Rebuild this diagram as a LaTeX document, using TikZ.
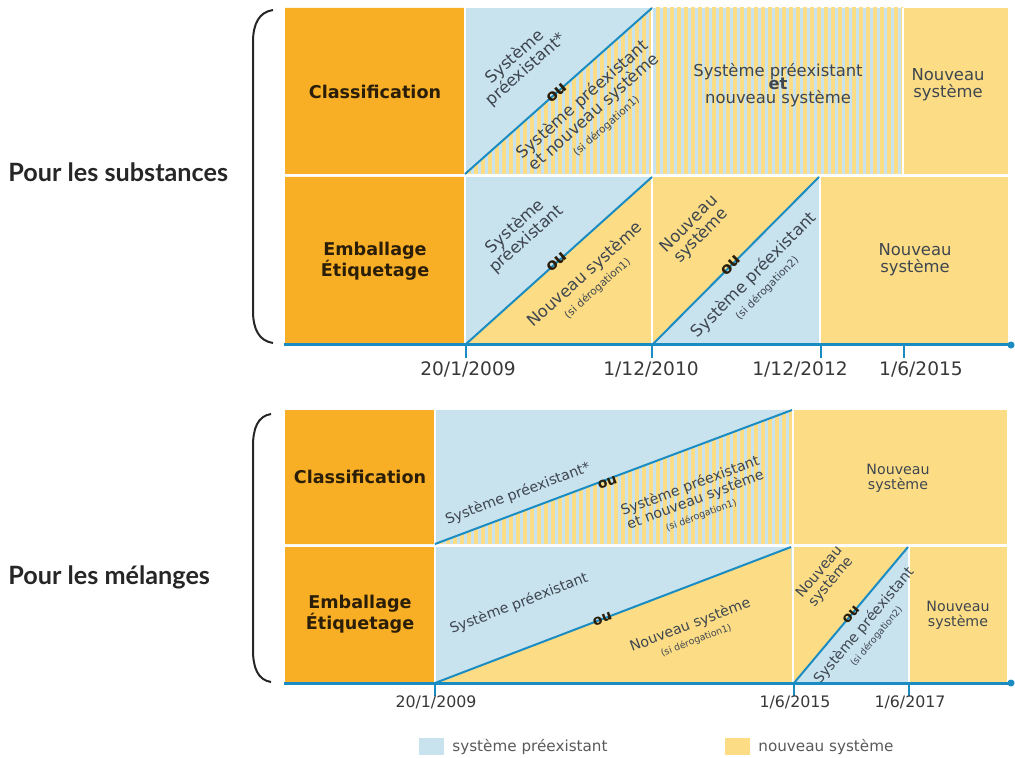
\documentclass[tikz,border=0pt]{standalone}
\usepackage{fontspec}
\setmainfont{DejaVu Sans}
\newfontfamily\grpfont{Lato}
\usepackage{xcolor}
\usepackage{tikz}
\usetikzlibrary{calc,patterns.meta}

\definecolor{orangeC}{HTML}{F8AF26}
\definecolor{bleuC}{HTML}{C8E2EE}
\definecolor{jauneC}{HTML}{FCDD86}
\definecolor{traitC}{HTML}{1A8CC2}
\definecolor{texteC}{HTML}{3E464F}
\definecolor{rubC}{HTML}{2A1E08}
\definecolor{dateC}{HTML}{383838}

\tikzset{
  cellt/.style={font=\fontsize{8.2}{8.4}\selectfont,text=texteC,align=center,inner sep=0pt},
  cellb/.style={font=\fontsize{7.1}{7.5}\selectfont,text=texteC,align=center,inner sep=0pt},
  outxt/.style={font=\bfseries\fontsize{8}{8}\selectfont,text=rubC,inner sep=0pt},
  rubrique/.style={font=\bfseries\fontsize{8.8}{10.4}\selectfont,text=rubC,align=center},
  datet/.style={font=\fontsize{9.3}{10}\selectfont,text=dateC},
  dateb/.style={font=\fontsize{7.9}{9}\selectfont,text=dateC},
  groupe/.style={font=\grpfont\bfseries\fontsize{12.6}{13}\selectfont,text=black!85,anchor=west,inner sep=0pt},
  legende/.style={font=\fontsize{7.6}{8}\selectfont,text=black!65,anchor=west,inner sep=0pt},
  diag/.style={draw=traitC,line width=1pt},
  axe/.style={draw=traitC,line width=1.5pt},
  graduation/.style={draw=traitC,line width=1pt},
  accolade/.style={draw=black!85,line width=1pt},
  separ/.style={draw=white,line width=0.8pt},
  mixte/.style={preaction={fill=bleuC},pattern={Lines[angle=90,distance=3.5pt,line width=1.75pt]},pattern color=jauneC}
}
\newcommand{\sider}[1]{{\fontsize{5.3}{6}\selectfont(si dérogation#1)}}
\newcommand{\siderb}[1]{{\fontsize{4.7}{5.4}\selectfont(si dérogation#1)}}

\begin{document}
\begin{tikzpicture}[x=0.5pt,y=-0.5pt]
\useasboundingbox (0,0) rectangle (1015,758);

% substances
\coordinate (tcA) at (465,174); \coordinate (tcB) at (652,8);
\coordinate (teA) at (466,344); \coordinate (teB) at (652,177);
\coordinate (tfA) at (653,344); \coordinate (tfB) at (819,177);
\fill[orangeC] (285,8) rectangle (465,174) (285,177) rectangle (465,344);
\fill[bleuC] (465,8) rectangle (652,174);
\path[mixte] (tcA) -- (652,174) -- (tcB) -- cycle;
\path[mixte] (652,8) rectangle (903,174);
\fill[jauneC] (903,8) rectangle (1008,174);
\fill[bleuC] (465,177) rectangle (652,344);
\fill[jauneC] (teA) -- (652,344) -- (teB) -- cycle;
\fill[jauneC] (652,177) rectangle (1008,344);
\fill[bleuC] (tfA) -- (819,344) -- (tfB) -- cycle;
\draw[separ] (465,8) -- (465,344) (652,8) -- (652,344) (903,8) -- (903,174) (820,177) -- (820,344);
\draw[diag] (tcA) -- (tcB);
\draw[diag] (teA) -- (teB);
\draw[diag] (tfA) -- (tfB);

\node[rubrique] (clsT) at (375,92) {Classification};
\node[rubrique] (embT) at (375,261) {Emballage\\Étiquetage};
\node[cellt,rotate=41.6] (tc1) at ($(tcA)!.46!(tcB)!23pt!90:(tcB)$) {Système\\préexistant*};
\node[outxt,rotate=41.6] (tcou) at ($(tcA)!.49!(tcB)$) {ou};
\node[cellt,rotate=41.6] (tc2) at ($(tcA)!.55!(tcB)!19.5pt!-90:(tcB)$) {Système préexistant\\et nouveau système\\\sider{1}};
\node[cellt] (tmix) at (778,85) {Système préexistant\\[-1.5pt]\textbf{et}\\[-1.5pt]nouveau système};
\node[cellt] (tnv1) at (948,85) {Nouveau\\système};
\node[cellt,rotate=41.9] (te1) at ($(teA)!.46!(teB)!23pt!90:(teB)$) {Système\\préexistant};
\node[outxt,rotate=41.9] (teou) at ($(teA)!.49!(teB)$) {ou};
\node[cellt,rotate=41.9] (te2) at ($(teA)!.54!(teB)!18pt!-90:(teB)$) {Nouveau système\\\sider{1}};
\node[cellt,rotate=45.2] (tf1) at ($(tfA)!.47!(tfB)!25pt!90:(tfB)$) {Nouveau\\système};
\node[outxt,rotate=45.2] (tfou) at ($(tfA)!.47!(tfB)$) {ou};
\node[cellt,rotate=45.2] (tf2) at ($(tfA)!.51!(tfB)!15.5pt!-90:(tfB)$) {Système préexistant\\\sider{2}};
\node[cellt] (tnv2) at (915,260) {Nouveau\\système};

\draw[axe] (284,345) -- (1010,345);
\fill[traitC] (1011,345) circle (3.5);
\draw[graduation] (466,345) -- (466,358) (652,345) -- (652,358) (821,345) -- (821,358) (904,345) -- (904,358);
\node[datet] (dt1) at (468,369) {20/1/2009};
\node[datet] (dt2) at (651,369) {1/12/2010};
\node[datet] (dt3) at (800,369) {1/12/2012};
\node[datet] (dt4) at (921,369) {1/6/2015};

\draw[accolade] (273,10) .. controls (259,12) and (253,24) .. (253,42) -- (253,311) .. controls (253,329) and (259,341) .. (273,343);
\node[groupe] (grpS) at (8,172) {Pour les substances};

% melanges
\coordinate (bcA) at (435,544); \coordinate (bcB) at (792,410);
\coordinate (beA) at (435,683); \coordinate (beB) at (791,547);
\coordinate (bfA) at (794,683); \coordinate (bfB) at (908,547);
\fill[orangeC] (285,410) rectangle (435,544) (285,547) rectangle (435,683);
\fill[bleuC] (435,410) rectangle (793,544);
\path[mixte] (bcA) -- (793,544) -- (bcB) -- cycle;
\fill[jauneC] (793,410) rectangle (1007,544);
\fill[bleuC] (435,547) rectangle (793,683);
\fill[jauneC] (beA) -- (793,683) -- (beB) -- cycle;
\fill[jauneC] (793,547) rectangle (1007,683);
\fill[bleuC] (bfA) -- (909,683) -- (bfB) -- cycle;
\draw[separ] (435,410) -- (435,683) (793,410) -- (793,683) (909,547) -- (909,683);
\draw[diag] (bcA) -- (bcB);
\draw[diag] (beA) -- (beB);
\draw[diag] (bfA) -- (bfB);

\node[rubrique] (clsB) at (360,477) {Classification};
\node[rubrique] (embB) at (360,614) {Emballage\\Étiquetage};
\node[cellb,rotate=20.6] (bc1) at ($(bcA)!.25!(bcB)!9pt!90:(bcB)$) {Système préexistant*};
\node[outxt,rotate=20.6,font=\bfseries\fontsize{7}{7}\selectfont] (bcou) at ($(bcA)!.48!(bcB)!1.5pt!-90:(bcB)$) {ou};
\node[cellb,rotate=20.6] (bc2) at ($(bcA)!.68!(bcB)!25pt!-90:(bcB)$) {Système préexistant\\et nouveau système\\\siderb{1}};
\node[cellb] (bnv1) at (898,478) {Nouveau\\système};
\node[cellb,rotate=20.9] (be1) at ($(beA)!.28!(beB)!22pt!90:(beB)$) {Système préexistant};
\node[outxt,rotate=20.9,font=\bfseries\fontsize{7}{7}\selectfont] (beou) at ($(beA)!.47!(beB)$) {ou};
\node[cellb,rotate=20.9] (be2) at ($(beA)!.68!(beB)!22pt!-90:(beB)$) {Nouveau système\\\siderb{1}};
\node[cellb,rotate=50] (bf1) at ($(bfA)!.57!(bfB)!22pt!90:(bfB)$) {Nouveau\\système};
\node[outxt,rotate=50,font=\bfseries\fontsize{7}{7}\selectfont] (bfou) at ($(bfA)!.5!(bfB)$) {ou};
\node[cellb,rotate=50] (bf2) at ($(bfA)!.5!(bfB)!12pt!-90:(bfB)$) {Système préexistant\\\siderb{2}};
\node[cellb] (bnv2) at (958,615) {Nouveau\\système};

\draw[axe] (284,683) -- (1010,683);
\fill[traitC] (1011,683) circle (3.5);
\draw[graduation] (435,683) -- (435,696) (794,683) -- (794,696) (909,683) -- (909,696);
\node[dateb] (db1) at (436,702) {20/1/2009};
\node[dateb] (db2) at (795,702) {1/6/2015};
\node[dateb] (db3) at (910,702) {1/6/2017};

\draw[accolade] (271,414) .. controls (258,416) and (253,428) .. (253,446) -- (253,650) .. controls (253,668) and (258,680) .. (271,682);
\node[groupe] (grpM) at (8,577) {Pour les mélanges};

% legende
\fill[bleuC] (419,738) rectangle (444,755);
\node[legende] (legP) at (452,747) {système préexistant};
\fill[jauneC] (725,738) rectangle (750,755);
\node[legende] (legN) at (758,747) {nouveau système};
\end{tikzpicture}
\end{document}
